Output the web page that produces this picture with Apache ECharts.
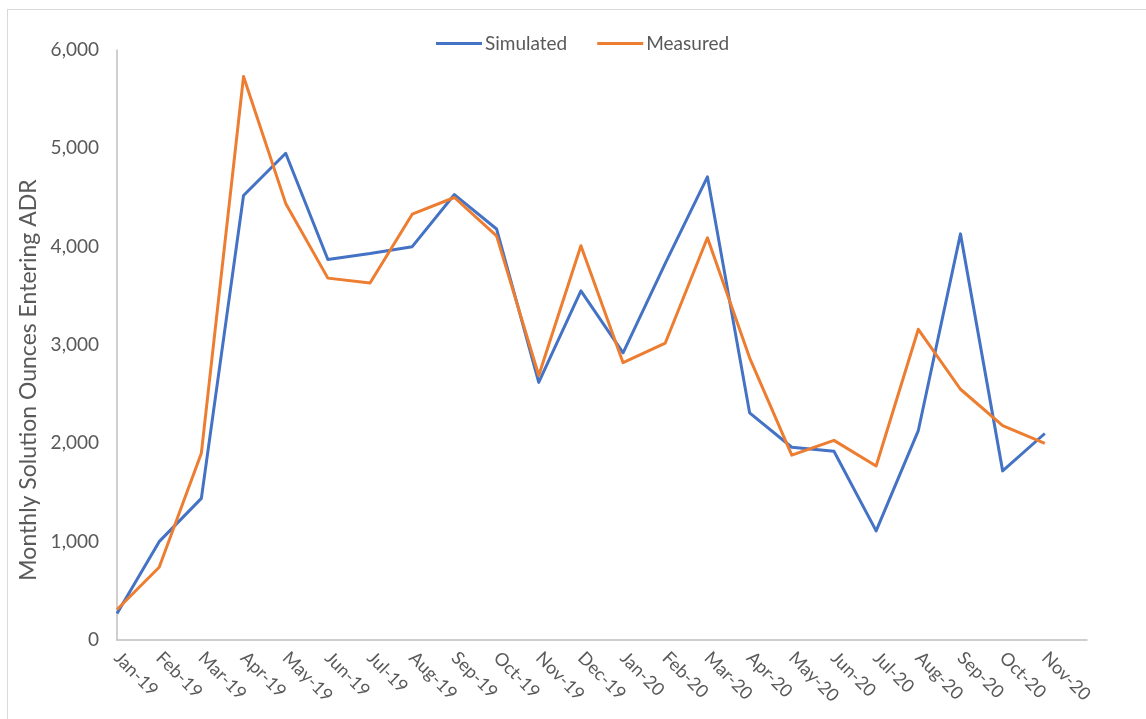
<!DOCTYPE html>
<html>
<head>
<meta charset="utf-8">
<script src="https://cdn.jsdelivr.net/npm/echarts@6/dist/echarts.min.js"></script>
<style>
  html, body { margin: 0; padding: 0; background: #ffffff; }
  #frame {
    position: absolute; left: 7px; top: 9px; right: 0; bottom: 0;
    border-left: 1px solid #d9d9d9; border-top: 1px solid #d9d9d9;
  }
  #chart { position: absolute; left: 0; top: 0; width: 1146px; height: 719px; }
</style>
</head>
<body>
<div id="frame"></div>
<div id="chart"></div>
<script>
// Month labels along the bottom axis
const months = ['Jan-19','Feb-19','Mar-19','Apr-19','May-19','Jun-19','Jul-19','Aug-19','Sep-19','Oct-19','Nov-19','Dec-19',
                'Jan-20','Feb-20','Mar-20','Apr-20','May-20','Jun-20','Jul-20','Aug-20','Sep-20','Oct-20','Nov-20'];

// Monthly solution ounces entering ADR
const simulated = [270, 1000, 1440, 4520, 4950, 3870, 3930, 4000, 4530, 4180, 2620, 3550,
                   2920, 3830, 4710, 2310, 1960, 1920, 1110, 2130, 4130, 1720, 2100];
const measured  = [310, 740, 1900, 5730, 4440, 3680, 3630, 4330, 4500, 4110, 2690, 4010,
                   2820, 3020, 4090, 2870, 1880, 2030, 1770, 3160, 2550, 2180, 2000];

// Y axis range
const yMin = 0, yMax = 6000, yStep = 1000;

const textColor = '#595959';
const font = 'Lato, "Open Sans", sans-serif';

// The axis runs one empty slot past the last month
const axisCategories = months.concat(['']);

const chart = echarts.init(document.getElementById('chart'), null, { renderer: 'canvas' });
chart.setOption({
  animation: false,
  textStyle: { fontFamily: font },
  grid: { left: 117, right: 59, top: 50, bottom: 79, containLabel: false },
  legend: {
    top: 29, left: 431,
    itemWidth: 46, itemHeight: 3, itemGap: 30,
    icon: 'rect',
    textStyle: { color: textColor, fontSize: 19, fontFamily: font, padding: [0, 0, 0, -2] },
    data: ['Simulated', 'Measured']
  },
  xAxis: {
    type: 'category',
    data: axisCategories,
    boundaryGap: false,
    axisLine: { lineStyle: { color: '#bfbfbf', width: 1.5 } },
    axisTick: { show: false },
    axisLabel: { interval: 0, rotate: -45, color: textColor, fontSize: 18, margin: 15, fontFamily: font },
    splitLine: { show: false }
  },
  yAxis: {
    type: 'value',
    min: yMin, max: yMax, interval: yStep,
    name: 'Monthly Solution Ounces Entering ADR',
    nameLocation: 'middle',
    nameGap: 67,
    nameTextStyle: { color: textColor, fontSize: 23, fontFamily: font, padding: [0, 70, 0, 0] },
    axisLine: { show: true, lineStyle: { color: '#bfbfbf', width: 1.5 } },
    axisTick: { show: false },
    axisLabel: {
      color: textColor, fontSize: 19, margin: 18, fontFamily: font,
      formatter: v => v.toLocaleString('en-US')
    },
    splitLine: { show: false }
  },
  series: [
    {
      name: 'Simulated', type: 'line', data: simulated,
      symbol: 'none', lineStyle: { color: '#4472C4', width: 3, join: 'round' },
      itemStyle: { color: '#4472C4' }
    },
    {
      name: 'Measured', type: 'line', data: measured,
      symbol: 'none', lineStyle: { color: '#ED7D31', width: 3, join: 'round' },
      itemStyle: { color: '#ED7D31' }
    }
  ]
});
</script>
</body>
</html>
